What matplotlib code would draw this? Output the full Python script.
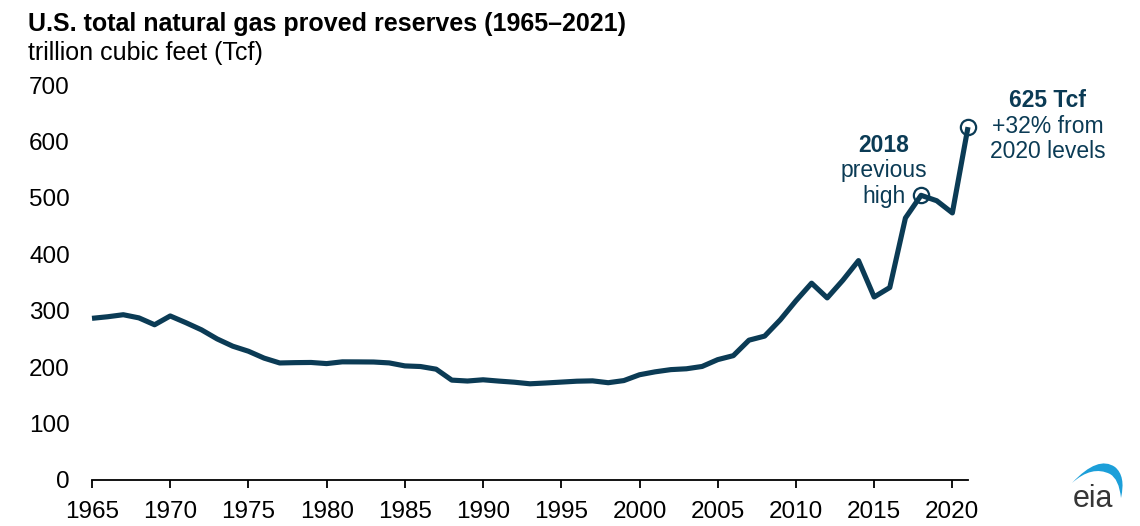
import matplotlib.pyplot as plt
from matplotlib.patches import PathPatch
from matplotlib.path import Path

plt.rcParams['font.family'] = ['Liberation Sans', 'DejaVu Sans']

NAVY = "#0b3b55"

years = list(range(1965, 2022))
reserves = [286.5, 289.3, 292.9, 287.3, 275.1, 290.7, 278.8, 266.1, 250.0, 237.1,
            228.2, 216.0, 207.4, 208.0, 208.3, 206.3, 209.4, 209.3, 209.1, 207.5,
            202.2, 201.1, 196.4, 177.0, 175.4, 177.6, 175.3, 173.3, 170.5, 171.9,
            173.5, 175.1, 175.7, 172.4, 176.2, 186.5, 191.7, 195.6, 197.1, 201.2,
            213.3, 220.4, 247.8, 255.0, 283.9, 317.6, 348.8, 322.7, 354.0, 388.8,
            324.3, 341.1, 464.3, 504.5, 494.9, 473.3, 625.4]
x_ticks = list(range(1965, 2021, 5))
y_ticks = list(range(0, 701, 100))
highlight_years = [2018, 2021]


def draw_logo(fig):
    # eia logo, drawn in pixel coordinates (y down)
    ax = fig.add_axes([1060 / 1140, 11 / 526, 70 / 1140, 60 / 526])
    ax.set_xlim(1060, 1130)
    ax.set_ylim(515, 455)
    ax.axis("off")
    verts = [(1072, 483), (1098, 455), (1115, 467), (1126, 476), (1121, 498),
             (1119, 479), (1110, 474), (1092, 465), (1072, 483)]
    codes = [Path.MOVETO, Path.CURVE3, Path.CURVE3, Path.CURVE3, Path.CURVE3,
             Path.CURVE3, Path.CURVE3, Path.CURVE3, Path.CURVE3]
    ax.add_patch(PathPatch(Path(verts, codes), color="#1c9fd9", lw=0))
    ax.text(1093, 507, "eia", fontsize=22, color="#363636", ha="center",
            va="baseline")


def plot_reserves():
    fig = plt.figure(figsize=(11.4, 5.26), dpi=100)
    ax = fig.add_axes([92 / 1140, 46 / 526, 876 / 1140, 395 / 526])
    ax.plot(years, reserves, color=NAVY, lw=3.7, solid_joinstyle="round",
            solid_capstyle="butt", zorder=3, clip_on=False)
    hl = [reserves[years.index(y)] for y in highlight_years]
    ax.plot(highlight_years, hl, "o", ms=11, mfc="none", mec=NAVY, mew=1.6,
            zorder=4, clip_on=False)

    ax.set_xlim(1965, 2021)
    ax.set_ylim(0, 700)
    ax.set_xticks(x_ticks)
    ax.set_yticks(y_ticks)
    ax.tick_params(axis="x", length=6, width=1.3, pad=9, labelsize=17.5,
                   direction="out")
    ax.tick_params(axis="y", length=0, pad=16, labelsize=17.5)
    for side in ["top", "right", "left"]:
        ax.spines[side].set_visible(False)
    ax.spines["bottom"].set_linewidth(1.3)
    ax.spines["bottom"].set_zorder(5)

    note = dict(fontsize=16.5, color=NAVY, ha="center", va="baseline",
                clip_on=False)
    ax.text(2015.6, 581, "2018", fontweight="bold", **note)
    ax.text(2015.6, 537, "previous", **note)
    ax.text(2015.6, 491, "high", **note)
    ax.text(2026.1, 661, "625 Tcf", fontweight="bold", **note)
    ax.text(2026.1, 615, "+32% from", **note)
    ax.text(2026.1, 571, "2020 levels", **note)

    fig.text(28 / 1140, 1 - 24 / 526,
             "U.S. total natural gas proved reserves (1965\u20132021)",
             fontsize=18, fontweight="bold", va="center", ha="left")
    fig.text(28 / 1140, 1 - 53 / 526, "trillion cubic feet (Tcf)",
             fontsize=18, va="center", ha="left")

    draw_logo(fig)
    fig.savefig("out.png", dpi=100)
    plt.close()


plot_reserves()
